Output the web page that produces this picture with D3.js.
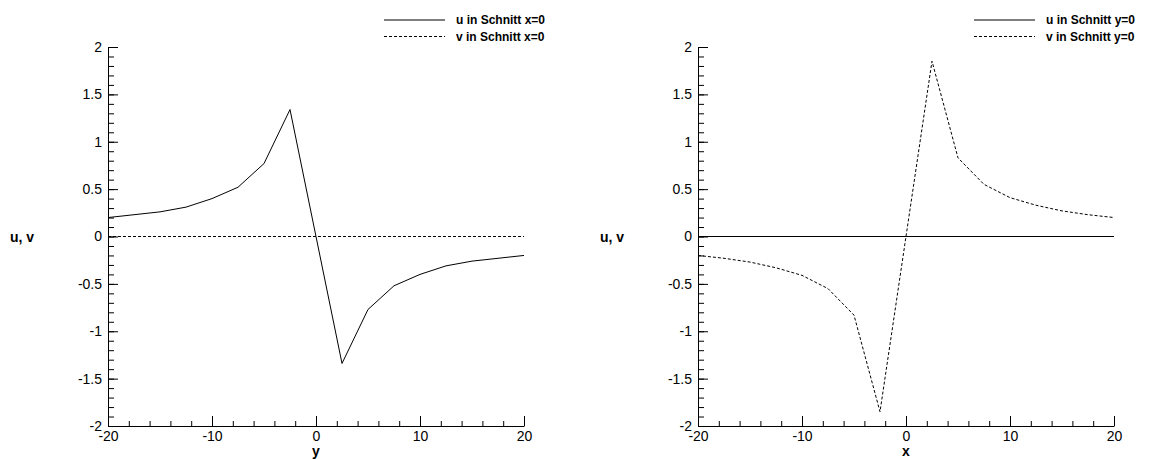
<!DOCTYPE html>
<html>
<head>
<meta charset="utf-8">
<script src="https://cdn.jsdelivr.net/npm/d3@7"></script>
<style>
  body { margin: 0; background: #fff; }
  svg { display: block; font-family: "Liberation Sans", Arial, sans-serif; }
</style>
</head>
<body>
<div id="chart"></div>
<script>
// sample positions along each cut
const positions = [-20, -17.5, -15, -12.5, -10, -7.5, -5, -2.5, 0, 2.5, 5, 7.5, 10, 12.5, 15, 17.5, 20];

// cut x=0 (left panel), plotted against y
const uCutX = [0.20, 0.23, 0.26, 0.31, 0.40, 0.52, 0.77, 1.34, 0, -1.34, -0.77, -0.52, -0.40, -0.31, -0.26, -0.23, -0.20];
const vCutX = [0, 0, 0, 0, 0, 0, 0, 0, 0, 0, 0, 0, 0, 0, 0, 0, 0];

// cut y=0 (right panel), plotted against x
const uCutY = [0, 0, 0, 0, 0, 0, 0, 0, 0, 0, 0, 0, 0, 0, 0, 0, 0];
const vCutY = [-0.20, -0.23, -0.27, -0.33, -0.41, -0.55, -0.83, -1.85, 0, 1.85, 0.83, 0.55, 0.41, 0.33, 0.27, 0.23, 0.20];

const yMajor = [-2, -1.5, -1, -0.5, 0, 0.5, 1, 1.5, 2];
const xMajor = [-20, -10, 0, 10, 20];

const W = 1153, H = 459;
const svg = d3.select("#chart").append("svg")
    .attr("width", W)
    .attr("height", H);

function drawPanel(p) {
    const x = d3.scaleLinear().domain([-20, 20]).range([p.left, p.right]);
    const y = d3.scaleLinear().domain([-2, 2]).range([426, 47]);
    const g = svg.append("g");
    const fmt = d => String(d);

    // minor ticks first
    g.append("g")
        .attr("transform", `translate(${p.left},0)`)
        .call(d3.axisLeft(y).tickValues(d3.range(-20, 21).map(d => d / 10)).tickSize(-6).tickFormat(""))
        .call(a => a.select(".domain").remove());
    g.append("g")
        .attr("transform", "translate(0,426)")
        .call(d3.axisBottom(x).tickValues(d3.range(-20, 21, 2)).tickSize(-5).tickFormat(""))
        .call(a => a.select(".domain").remove());

    g.append("g")
        .attr("transform", `translate(${p.left},0)`)
        .call(d3.axisLeft(y).tickValues(yMajor).tickSize(-10).tickPadding(6).tickFormat(fmt).tickSizeOuter(0));
    const xa = g.append("g")
        .attr("transform", "translate(0,426)")
        .call(d3.axisBottom(x).tickValues(xMajor).tickSize(-10).tickPadding(5).tickFormat(fmt).tickSizeOuter(0));
    xa.selectAll("text").attr("y", 2).attr("dy", "0.9em");

    g.selectAll(".tick line").attr("stroke", "#000");
    g.selectAll(".domain").attr("stroke", "#000");
    g.selectAll(".tick text").attr("font-size", 14).attr("fill", "#000")
        .attr("font-family", "Liberation Sans, Arial, sans-serif");

    // axis titles
    g.append("text")
        .attr("x", p.left - 98).attr("y", 237).attr("dy", "0.35em")
        .attr("font-size", 14).attr("font-weight", "bold")
        .text("u, v");
    g.append("text")
        .attr("x", x(0)).attr("y", 456)
        .attr("text-anchor", "middle")
        .attr("font-size", 14).attr("font-weight", "bold")
        .text(p.xTitle);

    const line = d3.line().x((d, i) => x(positions[i])).y(d => y(d));
    p.series.forEach(s => {
        g.append("path").datum(s.values)
            .attr("d", line).attr("fill", "none").attr("stroke", "#000").attr("stroke-width", 1)
            .attr("stroke-dasharray", s.dash);
    });

    // legend
    const lg = g.append("g").attr("transform", `translate(${p.legendX},0)`);
    p.series.forEach((s, i) => {
        const yy = 20 + i * 16.5;
        lg.append("line")
            .attr("x1", 0).attr("x2", 61).attr("y1", yy).attr("y2", yy)
            .attr("stroke", "#000").attr("stroke-dasharray", s.dash);
        lg.append("text")
            .attr("x", 72).attr("y", yy).attr("dy", "0.35em")
            .attr("font-size", 12).attr("font-weight", "bold")
            .text(s.name);
    });
}

drawPanel({
    left: 108, right: 524, xTitle: "y", legendX: 384,
    series: [
        {name: "u in Schnitt x=0", values: uCutX, dash: null},
        {name: "v in Schnitt x=0", values: vCutX, dash: "3,2"}
    ]
});
drawPanel({
    left: 698, right: 1114, xTitle: "x", legendX: 974,
    series: [
        {name: "u in Schnitt y=0", values: uCutY, dash: null},
        {name: "v in Schnitt y=0", values: vCutY, dash: "3,2"}
    ]
});
</script>
</body>
</html>
